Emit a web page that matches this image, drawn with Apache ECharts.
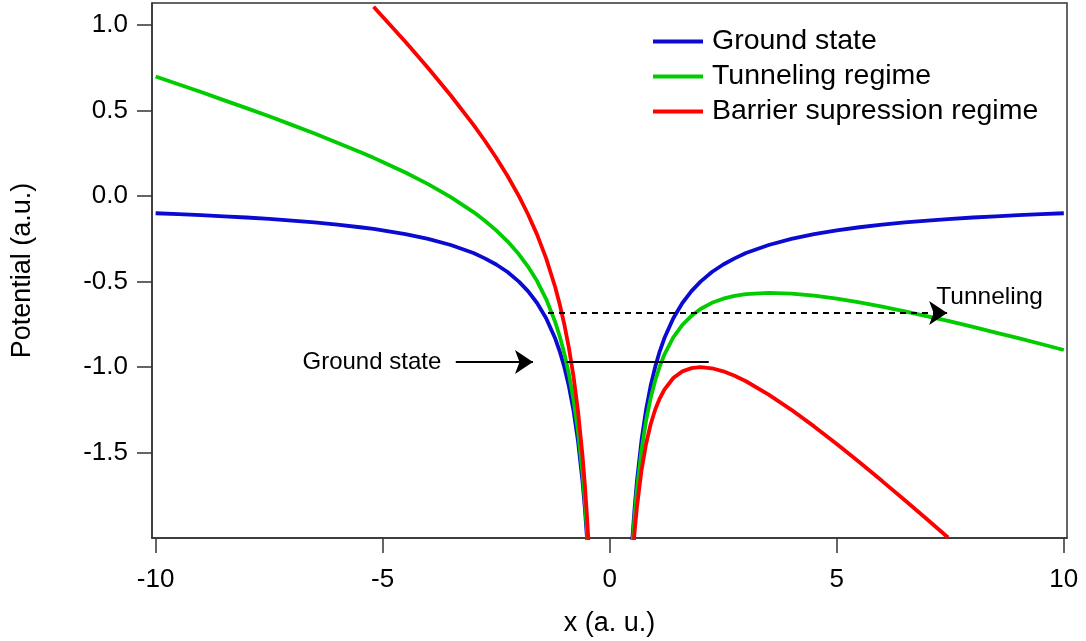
<!DOCTYPE html>
<html>
<head>
<meta charset="utf-8">
<script src="https://cdn.jsdelivr.net/npm/echarts@6/dist/echarts.min.js"></script>
<style>
html,body{margin:0;padding:0;background:#fff;}
#chart{width:1086px;height:641px;}
</style>
</head>
<body>
<div id="chart"></div>
<script>
// x positions (a.u.); 0 is a gap (singularity)
const xValues = [
  -10, -9.5, -9, -8.5, -8, -7.5, -7, -6.5, -6, -5.5, -5.2, -5, -4.5, -4, -3.5, -3, -2.75, -2.5, -2.25, -2,
  -1.8, -1.6, -1.4, -1.2, -1.1, -1.0, -0.9, -0.8, -0.7, -0.6, -0.55, -0.5, -0.45, -0.4,
  0,
  0.4, 0.45, 0.5, 0.55, 0.6, 0.7, 0.8, 0.9, 1.0, 1.1, 1.2, 1.4, 1.6, 1.8, 2.0, 2.25, 2.5, 2.75, 3,
  3.5, 4, 4.5, 5, 5.5, 6, 6.5, 7, 7.45, 8, 8.5, 9, 9.5, 10
];
const groundState = [
  -0.100, -0.105, -0.111, -0.118, -0.125, -0.133, -0.143, -0.154, -0.167, -0.182, -0.192, -0.200, -0.222, -0.250, -0.286, -0.333, -0.364, -0.400, -0.444, -0.500,
  -0.556, -0.625, -0.714, -0.833, -0.909, -1.000, -1.111, -1.250, -1.429, -1.667, -1.818, -2.000, -2.222, -2.500,
  null,
  -2.500, -2.222, -2.000, -1.818, -1.667, -1.429, -1.250, -1.111, -1.000, -0.909, -0.833, -0.714, -0.625, -0.556, -0.500, -0.444, -0.400, -0.364, -0.333,
  -0.286, -0.250, -0.222, -0.200, -0.182, -0.167, -0.154, -0.143, -0.134, -0.125, -0.118, -0.111, -0.105, -0.100
];
const tunnelingRegime = [
  0.700, 0.655, 0.609, 0.562, 0.515, 0.467, 0.417, 0.366, 0.313, 0.258, 0.224, 0.200, 0.138, 0.070, -0.006, -0.093, -0.144, -0.200, -0.264, -0.340,
  -0.412, -0.497, -0.602, -0.737, -0.821, -0.920, -1.039, -1.186, -1.373, -1.619, -1.774, -1.960, -2.186, -2.468,
  null,
  -2.532, -2.258, -2.040, -1.862, -1.715, -1.485, -1.314, -1.183, -1.080, -0.997, -0.929, -0.826, -0.753, -0.700, -0.660, -0.624, -0.600, -0.584, -0.573,
  -0.566, -0.570, -0.582, -0.600, -0.622, -0.647, -0.674, -0.703, -0.730, -0.765, -0.798, -0.831, -0.865, -0.900
];
const barrierRegime = [
  null, null, null, null, null, null, null, null, null, null, 1.108, 1.050, 0.903, 0.750, 0.589, 0.417, 0.324, 0.225, 0.118, 0.000,
  -0.106, -0.225, -0.364, -0.533, -0.634, -0.750, -0.886, -1.050, -1.254, -1.517, -1.681, -1.875, -2.110, -2.400,
  null,
  -2.600, -2.335, -2.125, -1.956, -1.817, -1.604, -1.450, -1.336, -1.250, -1.184, -1.133, -1.064, -1.025, -1.006, -1.000, -1.007, -1.025, -1.051, -1.083,
  -1.161, -1.250, -1.347, -1.450, -1.557, -1.667, -1.779, -1.893, -1.997, null, null, null, null, null
];
const seriesNames = ['Ground state', 'Tunneling regime', 'Barrier supression regime'];
const xTicks = [-10, -5, 0, 5, 10];
const yTicks = [-1.5, -1.0, -0.5, 0.0, 0.5, 1.0];

// annotation data coordinates
const groundLevel = -0.97;
const groundLevelLine = [[-0.95, groundLevel], [2.18, groundLevel]];
const groundArrow = [[-3.39, groundLevel], [-1.69, groundLevel]];
const groundLabel = { text: 'Ground state', at: [-3.71, groundLevel] };
const tunnelLevel = -0.684;
const tunnelArrow = [[-1.36, tunnelLevel], [7.43, tunnelLevel]];
const tunnelLabel = { text: 'Tunneling', at: [7.19, -0.59] };

const FONT = '"Liberation Sans", Arial, sans-serif';
const colors = ['#0a0ad2', '#00cc00', '#ff0000'];
const toPairs = ys => xValues.map((x, i) => [x, ys[i] === null ? '-' : ys[i]]);

const chart = echarts.init(document.getElementById('chart'));
chart.setOption({
  animation: false,
  backgroundColor: '#ffffff',
  textStyle: { fontFamily: FONT },
  grid: { left: 152, right: 19, top: 3, bottom: 103, show: true, borderColor: '#333', borderWidth: 1.5, containLabel: false, outerBoundsMode: 'none' },
  legend: {
    data: seriesNames,
    orient: 'vertical',
    left: 648,
    top: 22,
    icon: 'rect',
    itemWidth: 50,
    itemHeight: 4,
    itemGap: 6,
    textStyle: { fontFamily: FONT, fontSize: 28.5, color: '#000', lineHeight: 28, padding: [0, 0, 0, 4] }
  },
  xAxis: {
    type: 'value',
    min: -10.08,
    max: 10.07,
    name: 'x (a. u.)',
    nameLocation: 'middle',
    nameGap: 72,
    nameTextStyle: { fontFamily: FONT, fontSize: 27, color: '#000' },
    axisLine: { show: true, onZero: false, lineStyle: { color: '#333', width: 1.5 } },
    axisTick: { show: true, length: 15, lineStyle: { color: '#333', width: 1.5 }, customValues: xTicks },
    axisLabel: { fontFamily: FONT, fontSize: 26, color: '#000', margin: 29, customValues: xTicks, formatter: v => String(v) },
    splitLine: { show: false }
  },
  yAxis: {
    type: 'value',
    min: -2,
    max: 1.13,
    name: 'Potential (a.u.)',
    nameLocation: 'middle',
    nameGap: 116,
    nameRotate: 90,
    nameTextStyle: { fontFamily: FONT, fontSize: 27, color: '#000' },
    axisLine: { show: true, onZero: false, lineStyle: { color: '#333', width: 1.5 } },
    axisTick: { show: true, length: 15, lineStyle: { color: '#333', width: 1.5 }, customValues: yTicks },
    axisLabel: { fontFamily: FONT, fontSize: 26, color: '#000', margin: 24, customValues: yTicks, formatter: v => v.toFixed(1) },
    splitLine: { show: false }
  },
  series: [
    {
      name: seriesNames[0], type: 'line', data: toPairs(groundState), showSymbol: false, symbol: 'none',
      lineStyle: { color: colors[0], width: 3.8 }, itemStyle: { color: colors[0] }, connectNulls: false, clip: true,
      markLine: {
        silent: true, animation: false,
        label: { show: false },
        lineStyle: { color: '#000', width: 2, type: 'solid' },
        data: [
          [{ coord: groundLevelLine[0], symbol: 'none' }, { coord: groundLevelLine[1], symbol: 'none' }],
          [{ coord: groundArrow[0], symbol: 'none' }, { coord: groundArrow[1], symbol: 'arrow', symbolSize: 18 }]
        ]
      },
      markPoint: {
        silent: true, animation: false, symbol: 'circle', symbolSize: 0,
        data: [{ coord: groundLabel.at, value: groundLabel.text }],
        label: { show: true, position: 'left', distance: 0, formatter: groundLabel.text, fontFamily: FONT, fontSize: 24, color: '#000' }
      }
    },
    {
      name: seriesNames[1], type: 'line', data: toPairs(tunnelingRegime), showSymbol: false, symbol: 'none',
      lineStyle: { color: colors[1], width: 3.8 }, itemStyle: { color: colors[1] }, connectNulls: false, clip: true,
      markLine: {
        silent: true, animation: false,
        label: { show: false },
        lineStyle: { color: '#000', width: 2, type: [6, 5] },
        data: [
          [{ coord: tunnelArrow[0], symbol: 'none' }, { coord: tunnelArrow[1], symbol: 'arrow', symbolSize: 18 }]
        ]
      },
      markPoint: {
        silent: true, animation: false, symbol: 'circle', symbolSize: 0,
        data: [{ coord: tunnelLabel.at, value: tunnelLabel.text }],
        label: { show: true, position: 'right', distance: 0, formatter: tunnelLabel.text, fontFamily: FONT, fontSize: 24.5, color: '#000' }
      }
    },
    {
      name: seriesNames[2], type: 'line', data: toPairs(barrierRegime), showSymbol: false, symbol: 'none',
      lineStyle: { color: colors[2], width: 3.8 }, itemStyle: { color: colors[2] }, connectNulls: false, clip: true
    }
  ]
});
</script>
</body>
</html>
